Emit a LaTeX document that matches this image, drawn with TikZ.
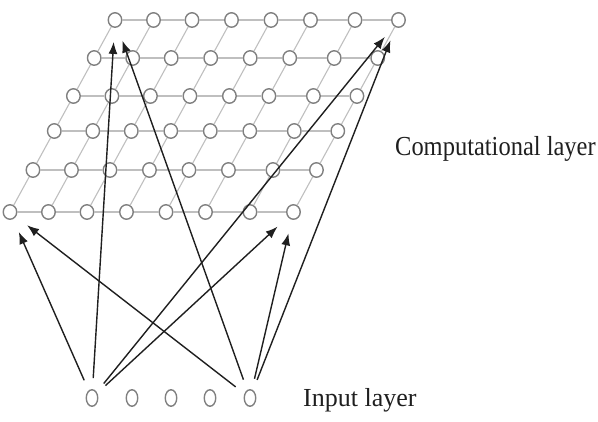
\documentclass[tikz,border=0pt]{standalone}
\usepackage{fontspec}
\setmainfont{Liberation Serif}
\usetikzlibrary{arrows.meta,shapes.geometric}
\begin{document}
\begin{tikzpicture}[x=1pt,y=-1pt,
  gnode/.style={ellipse,draw=black!50,line width=1.4pt,fill=white,minimum width=13.5pt,minimum height=14.5pt,inner sep=0pt},
  inode/.style={ellipse,draw=black!50,line width=1.4pt,fill=white,minimum width=11.5pt,minimum height=16.5pt,inner sep=0pt},
  gline/.style={draw=black!25,line width=1.1pt},
  arr/.style={draw=black!88,line width=1.4pt,-{Latex[length=12pt,width=9pt]},shorten <=11pt,shorten >=14pt},
  lbl/.style={anchor=base west,inner sep=0pt,text=black!88}]
\useasboundingbox (0,0) rectangle (598,422);
% computational layer grid nodes
\foreach \y [count=\r from 0] in {20,58,96,131,170,212}{
  \foreach \t [count=\c from 0] in {115,153.5,192,231.5,271,310.5,355,398.5}{
    \node[gnode] (g\r\c) at ({\t-0.547*(\y-20)},\y) {};
  }
}
% grid lines
\foreach \r in {0,...,5}{
  \foreach \c [evaluate=\c as \cn using int(\c+1)] in {0,...,6}{
    \draw[gline] (g\r\c) -- (g\r\cn);
  }
}
\foreach \r [evaluate=\r as \rn using int(\r+1)] in {0,...,4}{
  \foreach \c in {0,...,7}{
    \draw[gline] (g\r\c) -- (g\rn\c);
  }
}
% input layer nodes
\foreach \x [count=\i] in {92,132,171,210,250}{
  \node[inode] (i\i) at (\x,398) {};
}
% connections
\foreach \t in {g00,g07,g57,g50}{
  \draw[arr] (i1) -- (\t);
  \draw[arr] (i5) -- (\t);
}
% labels
\node[lbl,xscale=0.89,font=\fontsize{27.5}{32}\selectfont] (lc) at (395,156) {Computational layer};
\node[lbl,font=\fontsize{26}{30}\selectfont] (li) at (303,407) {Input layer};
\end{tikzpicture}
\end{document}
